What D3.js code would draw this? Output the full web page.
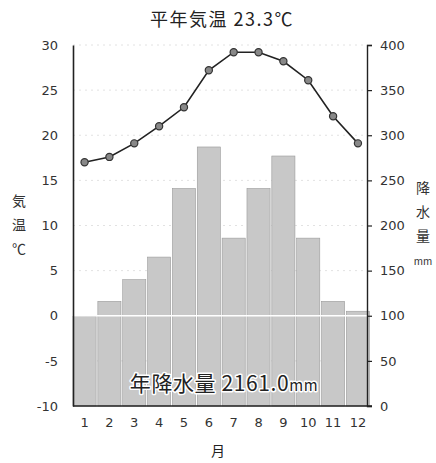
<!DOCTYPE html>
<html><head><meta charset="utf-8">
<script src="https://cdn.jsdelivr.net/npm/d3@7"></script>
<style>body{margin:0;background:#fff}svg{display:block}</style>
</head><body>
<svg id="c" width="436" height="463"></svg>
<script>
const months = ["1","2","3","4","5","6","7","8","9","10","11","12"];
const temperature = [17.0, 17.6, 19.1, 21.0, 23.1, 27.2, 29.2, 29.2, 28.2, 26.1, 22.1, 19.1];
const precipitation = [99, 116, 140, 165, 241, 287, 186, 241, 277, 186, 116, 105];
const tempTicks = [-10, -5, 0, 5, 10, 15, 20, 25, 30];
const precTicks = [0, 50, 100, 150, 200, 250, 300, 350, 400];
const titleText = "平年気温 23.3℃";
const annualText = "年降水量 2161.0";
const leftTitle = ["気","温","℃"];
const rightTitle = ["降","水","量","mm"];
const xTitle = "月";

const svg = d3.select("#c");
const L = 73, R = 367, T = 45, B = 406;
const x = d3.scaleBand().domain(months).range([L, 369.5]).paddingInner(0.07).paddingOuter(0.0);
const yT = d3.scaleLinear().domain([-10, 30]).range([B, T]);
const yP = d3.scaleLinear().domain([0, 400]).range([B, T]);
const sans = "'DejaVu Sans', Verdana, sans-serif";
const cjk = "'Noto Sans CJK JP', sans-serif";

// gridlines
svg.append("g").selectAll("line").data(tempTicks.filter(d => d > -10)).join("line")
  .attr("x1", L).attr("x2", R).attr("y1", d => yT(d)).attr("y2", d => yT(d))
  .attr("stroke", "#e2e2e2").attr("stroke-width", 1).attr("stroke-dasharray", "2,4");

// bars
svg.append("g").selectAll("rect").data(precipitation).join("rect")
  .attr("x", (d, i) => x(months[i])).attr("width", x.bandwidth())
  .attr("y", d => yP(d)).attr("height", d => yP(0) - yP(d))
  .attr("fill", "#c8c8c8").attr("stroke", "#9a9a9a").attr("stroke-width", 0.6);

// white line at 0°C over bars
svg.append("line").attr("x1", L).attr("x2", R).attr("y1", yT(0)).attr("y2", yT(0))
  .attr("stroke", "#fff").attr("stroke-width", 1.5);

// annual precipitation label
const ann = svg.append("text").attr("x", 224).attr("y", 391).attr("text-anchor", "middle")
  .attr("font-family", cjk).attr("font-size", 21).attr("letter-spacing", 0.6).attr("fill", "#222")
  .attr("stroke", "#fff").attr("stroke-width", 3).attr("paint-order", "stroke")
  .attr("stroke-linejoin", "round");
ann.append("tspan").text(annualText);
ann.append("tspan").attr("font-size", 15).text("mm");

// temperature line
const line = d3.line().x((d, i) => x(months[i]) + x.bandwidth() / 2).y(d => yT(d));
svg.append("path").datum(temperature).attr("d", line)
  .attr("fill", "none").attr("stroke", "#222").attr("stroke-width", 1.6);
svg.append("g").selectAll("circle").data(temperature).join("circle")
  .attr("cx", (d, i) => x(months[i]) + x.bandwidth() / 2).attr("cy", d => yT(d))
  .attr("r", 3.6).attr("fill", "#888").attr("stroke", "#333").attr("stroke-width", 1.2);

// axes
const fmt = d => String(d);
const axL = svg.append("g").attr("transform", `translate(${L},0)`)
  .call(d3.axisLeft(yT).tickValues(tempTicks).tickFormat(fmt).tickSize(0).tickPadding(15));
axL.select(".domain").attr("stroke", "#222").attr("stroke-width", 1.6);
axL.selectAll("text").attr("font-family", sans).attr("font-size", 13).attr("fill", "#333");

const axR = svg.append("g").attr("transform", `translate(${R},0)`)
  .call(d3.axisRight(yP).tickValues(precTicks).tickFormat(fmt).tickSize(5).tickSizeOuter(5).tickPadding(8));
axR.select(".domain").attr("stroke", "#222").attr("stroke-width", 1.4);
axR.selectAll("line").attr("stroke", "#222").attr("stroke-width", 1.2);
axR.selectAll("text").attr("font-family", sans).attr("font-size", 13).attr("fill", "#333");

const axB = svg.append("g").attr("transform", `translate(0,${B})`)
  .call(d3.axisBottom(x).tickSize(0).tickPadding(12));
axB.select(".domain").attr("d", `M${L},0H372`).attr("stroke", "#222").attr("stroke-width", 1.6);
axB.selectAll("text").attr("font-family", sans).attr("font-size", 13).attr("fill", "#333");

// titles
svg.append("text").attr("x", 222).attr("y", 26).attr("text-anchor", "middle")
  .attr("font-family", cjk).attr("font-size", 18).attr("letter-spacing", 1.5).attr("fill", "#222").text(titleText);
svg.append("text").attr("x", 218).attr("y", 456).attr("text-anchor", "middle")
  .attr("font-family", cjk).attr("font-size", 14).attr("fill", "#222").text(xTitle);
svg.append("g").selectAll("text").data(leftTitle).join("text")
  .attr("x", 19).attr("y", (d, i) => 206 + i * 24).attr("text-anchor", "middle")
  .attr("font-family", cjk).attr("font-size", 14).attr("fill", "#333").text(d => d);
svg.append("g").selectAll("text").data(rightTitle).join("text")
  .attr("x", 423).attr("y", (d, i) => 193 + i * 24).attr("text-anchor", "middle")
  .attr("font-family", cjk).attr("font-size", (d, i) => i === 3 ? 10 : 14).attr("fill", "#333").text(d => d);
</script>
</body></html>
